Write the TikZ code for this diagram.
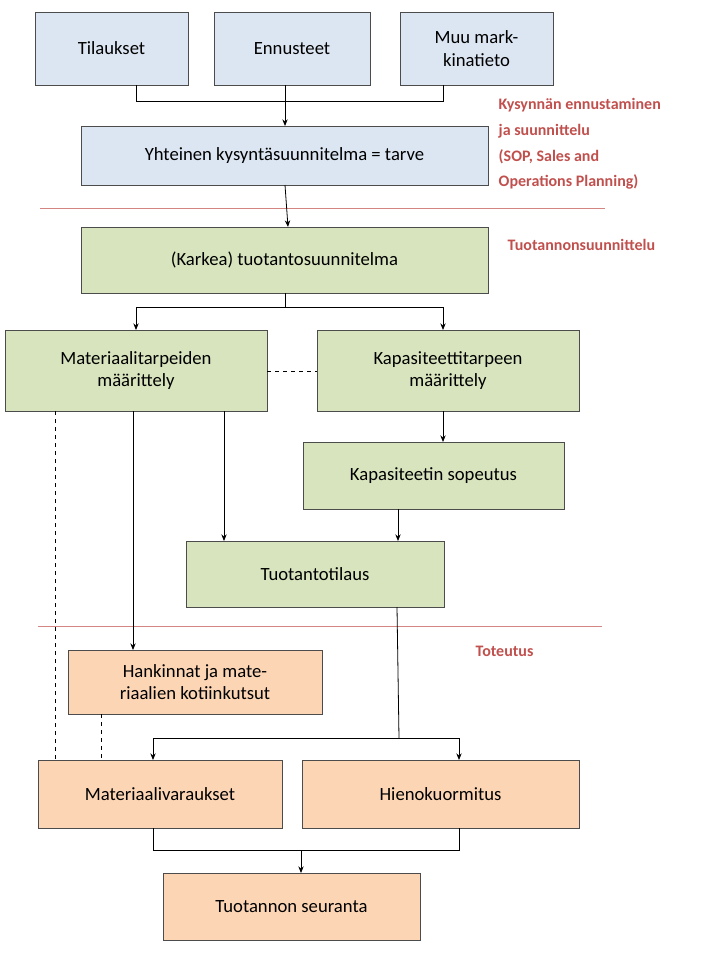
\documentclass[tikz,border=0pt]{standalone}
\usepackage{fontspec}
\setmainfont{Carlito}
\usetikzlibrary{arrows.meta}
\definecolor{bfill}{HTML}{DCE6F2}
\definecolor{gfill}{HTML}{D7E4BD}
\definecolor{ofill}{HTML}{FCD5B5}
\definecolor{lbl}{HTML}{C0504D}
\begin{document}
\begin{tikzpicture}[x=0.75pt,y=-0.75pt,
  box/.style={draw=black!70,line width=0.6pt,align=center,font=\fontsize{14}{17}\selectfont},
  arr/.style={-{Stealth[length=5pt,width=4pt]},line width=0.6pt},
  ln/.style={line width=0.6pt},
  dsh/.style={dashed,line width=0.6pt},
  red/.style={lbl,font=\bfseries\fontsize{12}{14}\selectfont,anchor=west}]
\useasboundingbox (0,0) rectangle (720,960);
\newcommand{\bx}[6]{\filldraw[#6,draw=black!70,line width=0.6pt] (#2,#3) rectangle (#4,#5); \node[box,draw=none] (#1) at ({(#2+#4)/2},{(#3+#5)/2}) {\strut};}
\bx{a}{35}{12}{188}{85}{fill=bfill}
\bx{b}{214}{12}{370}{85}{fill=bfill}
\bx{c}{400}{12}{553}{85}{fill=bfill}
\bx{d}{81}{126}{488}{185}{fill=bfill}
\bx{e}{81}{227}{488}{293}{fill=gfill}
\bx{f}{5}{330}{267}{411}{fill=gfill}
\bx{g}{317}{330}{579}{411}{fill=gfill}
\bx{h}{303}{442}{564}{509}{fill=gfill}
\bx{i}{186}{541}{444}{607}{fill=gfill}
\bx{j}{68}{650}{322}{714}{fill=ofill}
\bx{k}{38}{760}{282}{828}{fill=ofill}
\bx{l}{302}{760}{579}{828}{fill=ofill}
\bx{m}{163}{873}{420}{940}{fill=ofill}
\tikzset{t/.style={box,draw=none}}
\node[t] at (a) {Tilaukset};
\node[t] at (b) {Ennusteet};
\node[t] at (c) {Muu mark-\\kinatieto};
\node[t] at (d) {Yhteinen kysyntäsuunnitelma = tarve};
\node[t] at (e) {(Karkea) tuotantosuunnitelma};
\node[t] at (f) {Materiaalitarpeiden\\määrittely};
\node[t] at (g) {Kapasiteettitarpeen\\määrittely};
\node[t] at (h) {Kapasiteetin sopeutus};
\node[t] at (i) {Tuotantotilaus};
\node[t] at (j) {Hankinnat ja mate-\\riaalien kotiinkutsut};
\node[t] at (k) {Materiaalivaraukset};
\node[t] at (l) {Hienokuormitus};
\node[t] at (m) {Tuotannon seuranta};
\node[red] (r1) at (494,105) {Kysynnän ennustaminen};
\node[red] (r2) at (494,131) {ja suunnittelu};
\node[red] (r3) at (494,157) {(SOP, Sales and};
\node[red] (r4) at (494,182) {Operations Planning)};
\node[red] (r5) at (503,245) {Tuotannonsuunnittelu};
\node[red] (r6) at (471,651) {Toteutus};
\draw[lbl!70,line width=0.5pt] (40,208) -- (605,208);
\draw[lbl!70,line width=0.5pt] (38,626) -- (602,626);
\coordinate (j1) at (285,101);
\draw[ln] (136,85) -- (136,101) -- (443,101) -- (443,85);
\draw[ln] (285,85) -- (j1);
\draw[arr] (j1) -- (285,126);
\draw[arr] (285,185) -- (288,227);
\draw[ln] (285,293) -- (285,307);
\draw[arr] (136,307) -- (136,330);
\draw[arr] (443,307) -- (443,330);
\draw[ln] (136,307) -- (443,307);
\draw[dsh] (267,371) -- (317,371);
\draw[arr] (443,411) -- (443,442);
\draw[arr] (398,509) -- (398,541);
\draw[arr] (224,411) -- (224,541);
\draw[arr] (133,411) -- (133,650);
\draw[dsh] (55,411) -- (55,760);
\draw[dsh] (101,714) -- (101,760);
\draw[ln] (397,607) -- (399,738);
\draw[ln] (153,738) -- (459,738);
\draw[arr] (153,738) -- (153,760);
\draw[arr] (459,738) -- (459,760);
\draw[ln] (153,828) -- (153,850) -- (459,850) -- (459,828);
\draw[arr] (301,850) -- (301,873);
\end{tikzpicture}
\end{document}
